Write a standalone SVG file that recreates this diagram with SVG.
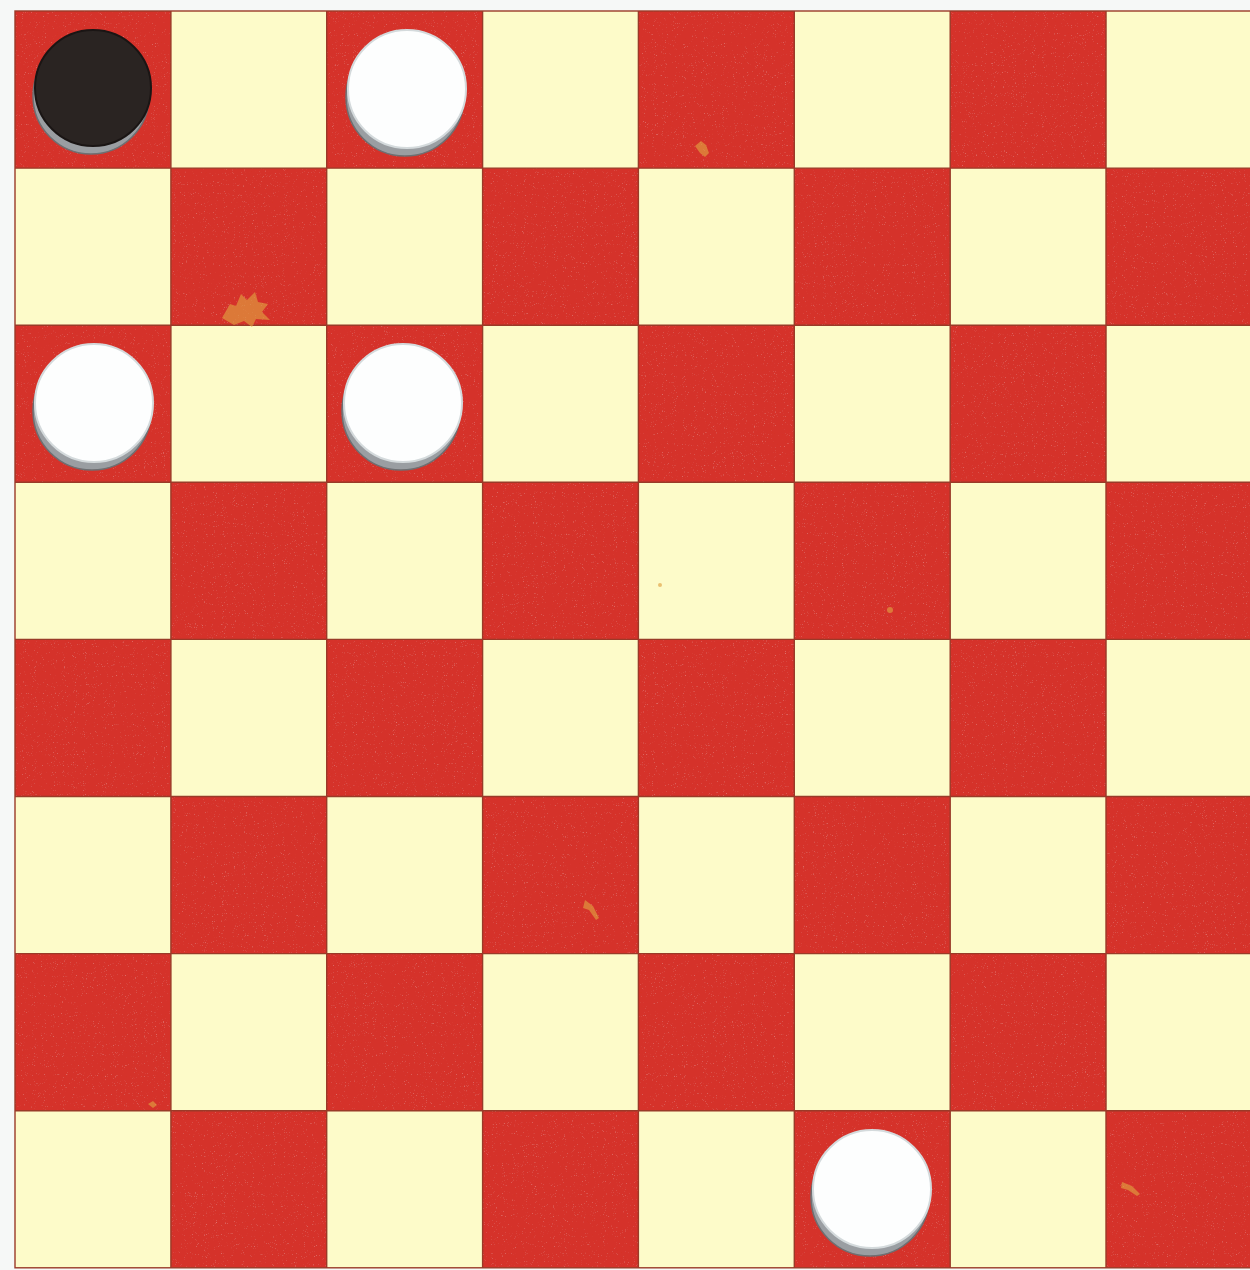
<svg xmlns="http://www.w3.org/2000/svg" width="1250" height="1270" viewBox="0 0 1250 1270">
<style>
.red{fill:#d5312a}
.grid{stroke:#9a3a28;stroke-width:1.4;fill:none}
.shadow{fill:#9a9ea2;stroke:#6d7073;stroke-width:1.5}
.white{fill:#fdfefe;stroke:#d4dadc;stroke-width:2}
.black{fill:#2a2422;stroke:#1a1514;stroke-width:2}
.stain{fill:#e0a040;opacity:0.65}
</style>
<defs>
<filter id="grain" x="0" y="0" width="100%" height="100%">
<feTurbulence type="fractalNoise" baseFrequency="0.9" numOctaves="2" seed="3" result="n"/>
<feColorMatrix in="n" type="matrix" values="0 0 0 0 1  0 0 0 0 0.6  0 0 0 0 0.55  0 0 0 0.9 -0.6" result="spots"/>
<feComposite in="spots" in2="SourceGraphic" operator="in" result="s2"/>
<feMerge><feMergeNode in="SourceGraphic"/><feMergeNode in="s2"/></feMerge>
</filter>
<radialGradient id="wface" cx="0.45" cy="0.4" r="0.6">
<stop offset="0" stop-color="#ffffff"/>
<stop offset="0.85" stop-color="#fbfdfd"/>
<stop offset="1" stop-color="#e6ecee"/>
</radialGradient>
</defs>
<rect x="0" y="0" width="1250" height="1270" fill="#f6f8f7"/>
<g id="board">
<rect x="15" y="11" width="1235" height="1257" fill="#fdfbc9"/>
<g id="red-squares" class="red" filter="url(#grain)">
<rect x="15" y="11" width="155.9" height="157.1"/>
<rect x="326.7" y="11" width="155.9" height="157.1"/>
<rect x="638.4" y="11" width="155.9" height="157.1"/>
<rect x="950.2" y="11" width="155.9" height="157.1"/>
<rect x="170.9" y="168.1" width="155.9" height="157.1"/>
<rect x="482.6" y="168.1" width="155.9" height="157.1"/>
<rect x="794.3" y="168.1" width="155.9" height="157.1"/>
<rect x="1106" y="168.1" width="144" height="157.1"/>
<rect x="15" y="325.2" width="155.9" height="157.1"/>
<rect x="326.7" y="325.2" width="155.9" height="157.1"/>
<rect x="638.4" y="325.2" width="155.9" height="157.1"/>
<rect x="950.2" y="325.2" width="155.9" height="157.1"/>
<rect x="170.9" y="482.3" width="155.9" height="157.1"/>
<rect x="482.6" y="482.3" width="155.9" height="157.1"/>
<rect x="794.3" y="482.3" width="155.9" height="157.1"/>
<rect x="1106" y="482.3" width="144" height="157.1"/>
<rect x="15" y="639.4" width="155.9" height="157.1"/>
<rect x="326.7" y="639.4" width="155.9" height="157.1"/>
<rect x="638.4" y="639.4" width="155.9" height="157.1"/>
<rect x="950.2" y="639.4" width="155.9" height="157.1"/>
<rect x="170.9" y="796.5" width="155.9" height="157.1"/>
<rect x="482.6" y="796.5" width="155.9" height="157.1"/>
<rect x="794.3" y="796.5" width="155.9" height="157.1"/>
<rect x="1106" y="796.5" width="144" height="157.1"/>
<rect x="15" y="953.6" width="155.9" height="157.1"/>
<rect x="326.7" y="953.6" width="155.9" height="157.1"/>
<rect x="638.4" y="953.6" width="155.9" height="157.1"/>
<rect x="950.2" y="953.6" width="155.9" height="157.1"/>
<rect x="170.9" y="1110.7" width="155.9" height="157.1"/>
<rect x="482.6" y="1110.7" width="155.9" height="157.1"/>
<rect x="794.3" y="1110.7" width="155.9" height="157.1"/>
<rect x="1106" y="1110.7" width="144" height="157.1"/>
</g>
<g id="grid" class="grid">
<rect x="15" y="11" width="1240" height="1256.8"/>
<path d="M170.9 11V1268M326.7 11V1268M482.6 11V1268M638.4 11V1268M794.3 11V1268M950.2 11V1268M1106 11V1268"/>
<path d="M15 168.1H1250M15 325.2H1250M15 482.3H1250M15 639.4H1250M15 796.5H1250M15 953.6H1250M15 1110.7H1250"/>
</g>
<g id="stains">
<path class="stain" d="M222 318 l8 -14 l6 2 l5 -12 l6 6 l8 -8 l3 10 l10 2 l-6 8 l8 8 l-14 -1 l-4 8 l-8 -6 l-10 4 z"/>
<path class="stain" d="M695 146 l6 -5 l5 4 l3 8 l-4 4 l-5 -4z"/>
<path class="stain" d="M585 900 l8 6 l6 12 l-3 2 l-7 -10 l-6 -2z" opacity="0.5"/>
<path class="stain" d="M148 1104 l5 -3 l4 4 l-4 3z"/>
<circle class="stain" cx="890" cy="610" r="3"/>
<circle class="stain" cx="660" cy="585" r="2"/>
<path class="stain" d="M1122 1182 l10 4 l8 8 l-3 2 l-9 -6 l-7 -2z" opacity="0.4"/>
</g>
</g>
<g id="piece-black-a">
<circle class="shadow" cx="91" cy="96" r="58"/>
<circle class="black" cx="93" cy="88" r="58"/>
</g>
<g id="piece-white-b">
<circle class="shadow" cx="405" cy="97" r="59"/>
<circle class="white" fill="url(#wface)" cx="407" cy="89" r="59"/>
</g>
<g id="piece-white-c">
<circle class="shadow" cx="92" cy="411" r="59"/>
<circle class="white" fill="url(#wface)" cx="94" cy="403" r="59"/>
</g>
<g id="piece-white-d">
<circle class="shadow" cx="401" cy="411" r="59"/>
<circle class="white" fill="url(#wface)" cx="403" cy="403" r="59"/>
</g>
<g id="piece-white-e">
<circle class="shadow" cx="870" cy="1197" r="59"/>
<circle class="white" fill="url(#wface)" cx="872" cy="1189" r="59"/>
</g>
</svg>
